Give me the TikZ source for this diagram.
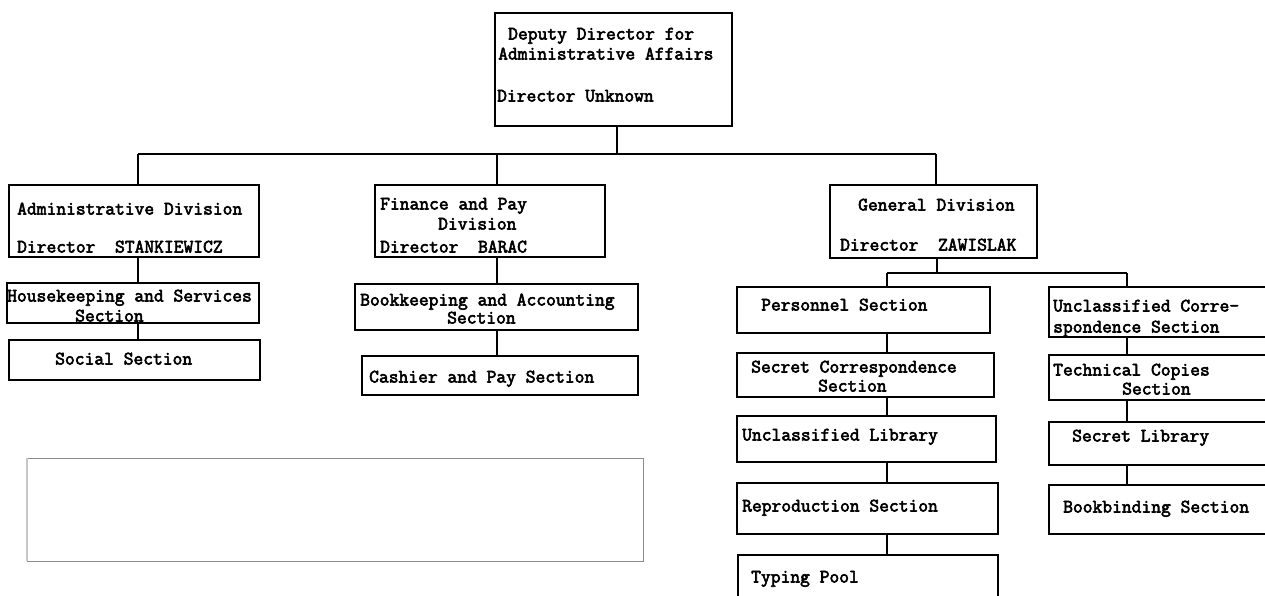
\documentclass[tikz,border=0pt]{standalone}
\usepackage{fontspec}
\newfontfamily\tw{Latin Modern Mono}[FakeBold=3]
\begin{document}
\begin{tikzpicture}[x=1pt,y=-1pt,
  box/.style={draw=black, line width=1.8pt, rectangle, inner sep=0pt, outer sep=0pt, fill=none},
  link/.style={draw=black, line width=1.8pt},
  txt/.style={anchor=west, inner sep=0pt, text height=12pt, text depth=3pt,
    font=\tw\fontsize{19}{21}\selectfont},
  blank/.style={draw=black!45, line width=1pt, rectangle, inner sep=0pt, outer sep=0pt}]
\useasboundingbox[fill=white] (0,0) rectangle (1265,596);

% ---- boxes ----
\node[box, minimum width=237pt, minimum height=113pt] (top) at (613.5,69.5) {};
\node[box, minimum width=250pt, minimum height=72pt] (admin) at (134,221) {};
\node[box, minimum width=252pt, minimum height=40pt] (house) at (133,303) {};
\node[box, minimum width=251pt, minimum height=40pt] (social) at (134.5,360) {};
\node[box, minimum width=230pt, minimum height=72pt] (fin) at (490,221) {};
\node[box, minimum width=283pt, minimum height=46pt] (book) at (496.5,307) {};
\node[box, minimum width=276pt, minimum height=39pt] (cash) at (500,375.5) {};
\node[box, minimum width=207pt, minimum height=73pt] (gen) at (933.5,221.5) {};
\node[box, minimum width=253pt, minimum height=46pt] (pers) at (863.5,310) {};
\node[box, minimum width=257pt, minimum height=44pt] (secc) at (865.5,375) {};
\node[box, minimum width=259pt, minimum height=46pt] (ulib) at (866.5,439) {};
\node[box, minimum width=261pt, minimum height=51pt] (repro) at (867.5,508.5) {};
\node[box, minimum width=260pt, minimum height=65pt] (typing) at (868,587.5) {};
\node[box, minimum width=241pt, minimum height=50pt] (ucorr) at (1169.5,312) {};
\node[box, minimum width=241pt, minimum height=45pt] (tech) at (1169.5,377.5) {};
\node[box, minimum width=241pt, minimum height=43pt] (slib) at (1169.5,443.5) {};
\node[box, minimum width=241pt, minimum height=49pt] (bind) at (1169.5,509.5) {};

% blank gray panel
\node[blank, minimum width=616pt, minimum height=103pt] (panel) at (335,509.5) {};
\draw[draw=black!22, line width=1.6pt] (panel.south west) -- (panel.north west);

% ---- connector coordinates ----
\coordinate (busL) at (138,154);
\coordinate (busR) at (936,154);
\coordinate (busT) at (617,154);
\coordinate (busF) at (497,154);
\coordinate (subL) at (887,273);
\coordinate (subR) at (1127,273);
\coordinate (subG) at (937,273);

% ---- connectors ----
\draw[link] (top.south -| busT) -- (busT);
\draw[link] (busL) -- (busR);
\draw[link] (busL) -- (busL |- admin.north);
\draw[link] (busF) -- (busF |- fin.north);
\draw[link] (busR) -- (busR |- gen.north);

\draw[link] (admin.south -| busL) -- (house.north -| busL);
\draw[link] (house.south -| busL) -- (social.north -| busL);

\draw[link] (fin.south -| busF) -- (book.north -| busF);
\draw[link] (book.south -| busF) -- (cash.north -| busF);

\draw[link] (gen.south -| subG) -- (subG);
\draw[link] (subL) -- (subR);
\draw[link] (subL) -- (subL |- pers.north);
\draw[link] (subR) -- (subR |- ucorr.north);

\draw[link] (pers.south -| subL) -- (secc.north -| subL);
\draw[link] (secc.south -| subL) -- (ulib.north -| subL);
\draw[link] (ulib.south -| subL) -- (repro.north -| subL);
\draw[link] (repro.south -| subL) -- (typing.north -| subL);

\draw[link] (ucorr.south -| subR) -- (tech.north -| subR);
\draw[link] (tech.south -| subR) -- (slib.north -| subR);
\draw[link] (slib.south -| subR) -- (bind.north -| subR);

% ---- texts ----
\node[txt] (t1) at (508,35) {Deputy Director for};
\node[txt] (t2) at (498,55) {Administrative Affairs};
\node[txt] (t3) at (497,97) {Director Unknown};

\node[txt] (a1) at (17,210) {Administrative Division};
\node[txt] (a2) at (17,248) {Director\ \ STANKIEWICZ};
\node[txt] (h1) at (7,297) {Housekeeping and Services};
\node[txt] (h2) at (75,317) {Section};
\node[txt] (s1) at (55,360) {Social Section};

\node[txt] (f1) at (380,205) {Finance and Pay};
\node[txt] (f2) at (438,225) {Division};
\node[txt] (f3) at (380,248) {Director\ \ BARAC};
\node[txt] (b1) at (360,301) {Bookkeeping and Accounting};
\node[txt] (b2) at (447,319) {Section};
\node[txt] (c1) at (369,378) {Cashier and Pay Section};

\node[txt] (g1) at (858,206) {General Division};
\node[txt] (g2) at (840,246) {Director\ \ ZAWISLAK};
\node[txt] (p1) at (761,306) {Personnel Section};
\node[txt] (sc1) at (751,368) {Secret Correspondence};
\node[txt] (sc2) at (818,387) {Section};
\node[txt] (u1) at (742,436) {Unclassified Library};
\node[txt] (r1) at (742,507) {Reproduction Section};
\node[txt] (ty1) at (751,578) {Typing Pool};

\node[txt] (uc1) at (1053,307) {Unclassified Corre-};
\node[txt] (uc2) at (1053,328) {spondence Section};
\node[txt] (tc1) at (1053,371) {Technical Copies};
\node[txt] (tc2) at (1122,390) {Section};
\node[txt] (sl1) at (1072,437) {Secret Library};
\node[txt] (bb1) at (1063,508) {Bookbinding Section};
\end{tikzpicture}
\end{document}
